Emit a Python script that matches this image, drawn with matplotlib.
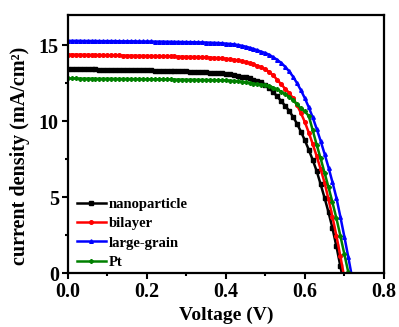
import matplotlib
matplotlib.use('Agg')
import matplotlib.pyplot as plt
import numpy as np
from matplotlib.ticker import MultipleLocator

plt.rcParams['font.family'] = ['Liberation Serif', 'DejaVu Serif']
plt.rcParams['font.weight'] = 'bold'

# voltage steps (V), 0.01 V apart
v = np.round(np.arange(0, 0.725, 0.01), 2)

# current density (mA/cm2)
nano = [13.45, 13.45, 13.44, 13.44, 13.43, 13.43, 13.42, 13.42, 13.41, 13.41, 13.40,
        13.40, 13.39, 13.39, 13.38, 13.38, 13.37, 13.37, 13.36, 13.36, 13.35,
        13.35, 13.34, 13.34, 13.33, 13.33, 13.32, 13.31, 13.30, 13.29, 13.28,
        13.27, 13.26, 13.25, 13.24, 13.22, 13.21, 13.19, 13.17, 13.15, 13.13,
        13.10, 13.06, 13.01, 12.95, 12.89, 12.82, 12.74, 12.66, 12.56, 12.42,
        12.18, 11.92, 11.64, 11.34, 11.02, 10.70, 10.30, 9.85, 9.32, 8.75,
        8.12, 7.45, 6.72, 5.85, 4.95, 4.00, 2.95, 1.75, 0.45, -0.90]
bilayer = [14.40, 14.40, 14.39, 14.39, 14.38, 14.38, 14.37, 14.37, 14.36, 14.36, 14.35,
           14.35, 14.34, 14.34, 14.33, 14.33, 14.32, 14.32, 14.31, 14.31, 14.30,
           14.30, 14.29, 14.29, 14.28, 14.28, 14.27, 14.27, 14.26, 14.26, 14.25,
           14.24, 14.24, 14.23, 14.22, 14.21, 14.20, 14.18, 14.16, 14.14, 14.12,
           14.09, 14.05, 14.01, 13.96, 13.90, 13.83, 13.75, 13.66, 13.55, 13.42,
           13.25, 13.02, 12.74, 12.44, 12.15, 11.88, 11.52, 11.08, 10.55, 9.95,
           9.25, 8.50, 7.70, 6.85, 5.95, 4.85, 3.70, 2.45, 1.10, -0.30]
large = [15.30, 15.30, 15.30, 15.30, 15.29, 15.29, 15.29, 15.29, 15.28, 15.28, 15.28,
         15.28, 15.28, 15.27, 15.27, 15.27, 15.27, 15.27, 15.26, 15.26, 15.26,
         15.26, 15.25, 15.25, 15.25, 15.24, 15.24, 15.23, 15.23, 15.22, 15.22,
         15.21, 15.21, 15.20, 15.20, 15.19, 15.18, 15.17, 15.16, 15.14, 15.12,
         15.10, 15.07, 15.03, 14.98, 14.92, 14.85, 14.77, 14.68, 14.58, 14.50,
         14.38, 14.22, 14.05, 13.85, 13.60, 13.30, 12.95, 12.52, 12.05, 11.52,
         10.92, 10.25, 9.50, 8.70, 7.85, 6.95, 5.98, 4.95, 3.70, 2.40,
         1.05, -0.35]
pt = [12.82, 12.82, 12.82, 12.81, 12.81, 12.81, 12.81, 12.80, 12.80, 12.80, 12.80,
      12.80, 12.79, 12.79, 12.79, 12.79, 12.78, 12.78, 12.78, 12.78, 12.77,
      12.77, 12.77, 12.77, 12.76, 12.76, 12.76, 12.75, 12.75, 12.75, 12.74,
      12.74, 12.74, 12.73, 12.73, 12.72, 12.72, 12.71, 12.71, 12.70, 12.70,
      12.68, 12.66, 12.63, 12.60, 12.56, 12.52, 12.48, 12.45, 12.42, 12.40,
      12.33, 12.22, 12.10, 11.95, 11.79, 11.62, 11.40, 11.12, 10.85, 10.65,
      10.35, 9.40, 8.45, 7.55, 6.60, 5.65, 4.65, 3.60, 2.45, 1.25,
      0.05, -1.20]

series = [(nano, 'nanoparticle', 'black', 's'),
          (bilayer, 'bilayer', 'red', 'o'),
          (large, 'large-grain', 'blue', '^'),
          (pt, 'Pt', 'green', 'P')]

fig = plt.figure(figsize=(3.99, 3.27), dpi=100)
ax = fig.add_axes([0.170, 0.165, 0.792, 0.789])

for y, name, c, m in series:
    ax.plot(v[:len(y)], y, color=c, marker=m, ms=2.6, lw=1.8, label=name)

ax.set_xlim(0, 0.8)
ax.set_ylim(0, 17)
ax.set_xticks([0, 0.2, 0.4, 0.6, 0.8])
ax.set_xticklabels(['0.0', '0.2', '0.4', '0.6', '0.8'])
ax.xaxis.set_minor_locator(MultipleLocator(0.1))
ax.yaxis.set_major_locator(MultipleLocator(5))
ax.yaxis.set_minor_locator(MultipleLocator(2.5))
ax.tick_params(which='major', direction='out', length=4, width=1.5, labelsize=14.5,
               top=False, right=False, pad=2.5)
ax.tick_params(which='minor', direction='out', length=2.5, width=1.5, top=False, right=False)
for s in ax.spines.values():
    s.set_linewidth(1.6)

ax.set_xlabel('Voltage (V)', fontsize=14, fontweight='bold', labelpad=3)
ax.set_ylabel('current density (mA/cm\u00b2)', fontsize=14.5, fontweight='bold')
ax.yaxis.set_label_coords(-0.12, 0.455)

ax.legend(loc='lower left', bbox_to_anchor=(0.005, -0.012), frameon=False,
          handlelength=2.0, handletextpad=0.2, labelspacing=0.42, borderaxespad=0.3,
          borderpad=0.2, prop={'weight': 'bold', 'size': 10.5})

plt.savefig('out.png', dpi=100)
